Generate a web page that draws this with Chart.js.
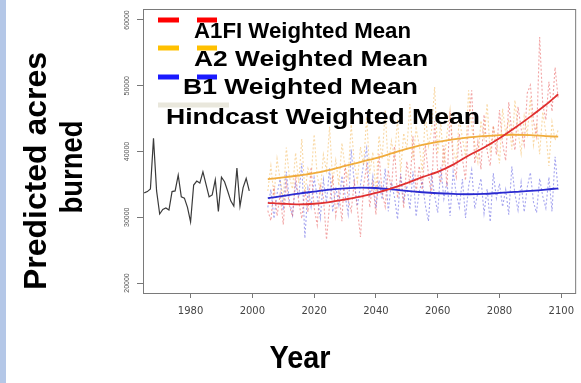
<!DOCTYPE html>
<html>
<head>
  <title>Predicted acres burned</title>
  <script src="https://cdn.jsdelivr.net/npm/chart.js"></script>
  <style>
    body { margin: 0; background: #fff; }
    #wrap { position: relative; width: 581px; height: 383px; }
  </style>
</head>
<body>
<div id="wrap"><canvas id="fireChart"></canvas></div>

<script>
  // tick labels
  const xTicks = [1980, 2000, 2020, 2040, 2060, 2080, 2100];
  const yTicks = [20000, 30000, 40000, 50000, 60000];

  // hindcast 1965-1999
  const hindYears = [1965, 1966, 1967, 1968, 1969, 1970, 1971, 1972, 1973, 1974, 1975, 1976, 1977, 1978, 1979,
    1980, 1981, 1982, 1983, 1984, 1985, 1986, 1987, 1988, 1989, 1990, 1991, 1992, 1993, 1994, 1995, 1996, 1997, 1998, 1999];
  const hindcast = [33700, 33900, 34300, 42000, 34000, 30500, 31200, 31400, 31100, 33900, 34000, 36400, 33100, 32900, 31500,
    29300, 34900, 35500, 35200, 36900, 35000, 33100, 33400, 35700, 30900, 36100, 35400, 34000, 32500, 31700, 37500, 31700, 34500, 35900, 34000];

  // yearly scenario runs, 2005-2099
  const projStart = 2005;
  const a1fiYearly = [31000, 29500, 34800, 30200, 33500, 28900, 35200, 31800, 30100, 36500,
    32400, 29800, 34200, 30800, 37600, 31500, 28800, 35100, 33000, 26600,
    31900, 36400, 30200, 33800, 29400, 38200, 32600, 30900, 35400, 31200,
    27000, 34800, 37900, 31500, 35200, 30400, 39600, 33800, 31600, 37200,
    34100, 40800, 32900, 36100, 31400, 38500, 35000, 42300, 33600, 37800,
    34200, 41000, 36500, 33300, 44600, 37000, 35200, 40900, 34700, 46200,
    38400, 36100, 42700, 38900, 35600, 44800, 49300, 38200, 41500, 37300,
    45600, 40100, 37800, 43900, 39500, 46300, 41200, 38600, 47500, 42800,
    40200, 46800, 43500, 41000, 48900, 50100, 44600, 42300, 57400, 47200,
    44800, 50600, 46100, 52800, 48000];
  const a2Yearly = [34000, 37800, 33200, 38900, 35600, 32800, 40600, 36100, 34300, 39800,
    35200, 41900, 33700, 37400, 35900, 42600, 36300, 33900, 39500, 37100,
    43800, 35500, 38700, 34800, 41300, 37600, 36000, 44100, 38200, 35400,
    40700, 37900, 45300, 36600, 39900, 33800, 42400, 38800, 46200, 37500,
    41600, 39100, 44900, 36900, 42800, 40300, 47200, 38700, 43500, 41100,
    36800, 45700, 40800, 43200, 49800, 39600, 44300, 37900, 42700, 46400,
    40200, 38500, 45100, 42000, 39300, 49300, 43600, 41200, 38400, 44700,
    42100, 47300, 39800, 43900, 41500, 38200, 46500, 42800, 44900, 40300,
    47800, 43100, 39700, 45400, 42600, 48200, 41000, 44200, 39600, 46000,
    42900, 37800, 44500, 41700, 43300];
  const b1Yearly = [31500, 34200, 29800, 33600, 35800, 31100, 36900, 32400, 30300, 35100,
    33000, 38200, 26800, 34400, 31600, 36000, 33100, 29900, 35700, 32200,
    37500, 30800, 34600, 31900, 36300, 33400, 30500, 40300, 35200, 31700,
    34900, 38100, 40500, 33000, 36200, 31400, 35600, 32700, 37400, 30900,
    35300, 33100, 29700, 36600, 32500, 34800, 31200, 37000, 30100, 33900,
    35500, 31800, 29400, 36400, 33300, 30700, 37600, 32800, 35400, 30200,
    36900, 33600, 31500, 35800, 29900, 34700, 37200, 31300, 33800, 35900,
    30600, 34300, 29300, 36700, 32900, 35100, 31600, 34200, 30400, 37700,
    33500, 31100, 35300, 30800, 34600, 36800, 32300, 30700, 35900, 33200,
    31400, 36100, 30900, 39200, 34000];

  // weighted means (smoothed)
  const meanYears = [2005, 2010, 2015, 2020, 2025, 2030, 2035, 2040, 2045, 2050,
    2055, 2060, 2065, 2070, 2075, 2080, 2085, 2090, 2095, 2099];
  const a1fiMean = [32200, 32050, 31950, 32050, 32300, 32700, 33150, 33700, 34400, 35200,
    36100, 36900, 38000, 39400, 40600, 42000, 43600, 45300, 47100, 48700];
  const a2Mean = [35800, 36050, 36350, 36700, 37200, 37800, 38400, 39000, 39700, 40400,
    41000, 41450, 41850, 42150, 42350, 42500, 42550, 42500, 42350, 42250];
  const b1Mean = [32900, 33250, 33600, 33900, 34200, 34400, 34500, 34450, 34250, 34000,
    33800, 33650, 33550, 33500, 33550, 33700, 33850, 34000, 34200, 34400];

  const legendLabels = ["A1FI Weighted Mean", "A2 Weighted Mean", "B1 Weighted Mean", "Hindcast Weighted Mean"];

  function pairs(xs, ys) {
    return ys.map((v, i) => ({ x: xs[i], y: v }));
  }
  function yearly(vals) {
    return vals.map((v, i) => ({ x: projStart + i, y: v }));
  }

  const TEXT_FONT = '"Liberation Sans", Arial, sans-serif';

  // draw bold text squeezed/stretched to a measured width
  function fitText(ctx, text, x, y, size, width, opts = {}) {
    ctx.save();
    ctx.translate(x, y);
    if (opts.rotate) ctx.rotate(opts.rotate);
    ctx.font = "bold " + size + "px " + TEXT_FONT;
    ctx.fillStyle = opts.color || "#000";
    ctx.textBaseline = opts.baseline || "alphabetic";
    ctx.textAlign = "left";
    const w = ctx.measureText(text).width;
    ctx.scale(width / w, 1);
    ctx.fillText(text, opts.center ? -w / 2 : 0, 0);
    ctx.restore();
  }

  const decorations = {
    id: "decorations",
    beforeDraw(chart) {
      const ctx = chart.ctx;
      ctx.save();
      ctx.fillStyle = "#b4c7e7";
      ctx.fillRect(0, 0, 6, chart.height);
      ctx.restore();
    },
    afterDatasetsDraw(chart) {
      const { ctx, chartArea } = chart;
      ctx.save();
      ctx.strokeStyle = "#7a7a7a";
      ctx.lineWidth = 1;
      ctx.strokeRect(chartArea.left + 0.5, chartArea.top + 0.5, chartArea.right - chartArea.left + 4, chartArea.bottom - chartArea.top);
      ctx.restore();
    },
    afterDraw(chart) {
      const ctx = chart.ctx;
      // legend swatches
      const swatch = [
        { color: "#ff0000", y: 20, segs: [[158, 179], [197, 217]] },
        { color: "#ffc000", y: 48, segs: [[158, 179], [197, 217]] },
        { color: "#1a1aff", y: 77, segs: [[158, 179], [197, 217]] },
        { color: "#e9e7dc", y: 105, segs: [[158, 229]] }
      ];
      ctx.save();
      ctx.lineWidth = 5;
      swatch.forEach(s => {
        ctx.strokeStyle = s.color;
        s.segs.forEach(sg => {
          ctx.beginPath();
          ctx.moveTo(sg[0], s.y);
          ctx.lineTo(sg[1], s.y);
          ctx.stroke();
        });
      });
      ctx.restore();

      const rows = [[194, 38, 217], [194, 66, 234], [183, 94, 235], [166, 124, 314]];
      legendLabels.forEach((t, i) => fitText(ctx, t, rows[i][0], rows[i][1], 21.5, rows[i][2]));

      // axis titles
      fitText(ctx, "Predicted acres", 37, 171, 31, 238, { rotate: -Math.PI / 2, center: true, baseline: "middle" });
      fitText(ctx, "burned", 73, 167, 31, 93, { rotate: -Math.PI / 2, center: true, baseline: "middle" });
      fitText(ctx, "Year", 300, 368, 32, 61, { center: true });
    }
  };

  const ctx = document.getElementById("fireChart").getContext("2d");

  new Chart(ctx, {
    type: "line",
    data: {
      datasets: [
        { data: yearly(a1fiYearly), borderColor: "rgba(232,90,90,0.55)", borderWidth: 1.1, borderDash: [2, 2], order: 2 },
        { data: yearly(a2Yearly), borderColor: "rgba(244,184,90,0.55)", borderWidth: 1.1, borderDash: [2, 2], order: 2 },
        { data: yearly(b1Yearly), borderColor: "rgba(90,90,225,0.55)", borderWidth: 1.1, borderDash: [2, 2], order: 2 },
        { data: pairs(meanYears, a2Mean), borderColor: "#f0ac3c", borderWidth: 1.8, tension: 0.4, cubicInterpolationMode: "monotone", order: 1 },
        { data: pairs(meanYears, b1Mean), borderColor: "#2a2ad0", borderWidth: 1.8, tension: 0.4, cubicInterpolationMode: "monotone", order: 1 },
        { data: pairs(meanYears, a1fiMean), borderColor: "#e03030", borderWidth: 1.8, tension: 0.4, cubicInterpolationMode: "monotone", order: 0 },
        { data: pairs(hindYears, hindcast), borderColor: "#3a3a3a", borderWidth: 1.2, tension: 0, order: 0 }
      ]
    },
    options: {
      responsive: true,
      maintainAspectRatio: false,
      animation: false,
      elements: { point: { radius: 0 } },
      layout: { padding: { top: 9, right: 0, left: 0, bottom: 0 } },
      plugins: { legend: { display: false }, tooltip: { enabled: false } },
      scales: {
        x: {
          type: "linear",
          min: 1964.6,
          max: 2103.2,
          afterBuildTicks: scale => { scale.ticks = xTicks.map(v => ({ value: v })); },
          afterFit: scale => { scale.height = 90; },
          border: { display: false },
          grid: { drawOnChartArea: false, drawTicks: true, tickLength: 5, color: "#777" },
          ticks: {
            padding: 7,
            color: "#444",
            font: { family: "DejaVu Sans", size: 10 },
            maxRotation: 0,
            callback: v => String(v)
          }
        },
        y: {
          min: 18480,
          max: 61670,
          afterBuildTicks: scale => { scale.ticks = yTicks.map(v => ({ value: v })); },
          afterFit: scale => { scale.width = 143; },
          border: { display: false },
          grid: { drawOnChartArea: false, drawTicks: true, tickLength: 6, color: "#777" },
          ticks: {
            padding: 0,
            color: "#555",
            minRotation: 90,
            maxRotation: 90,
            crossAlign: "center",
            font: { family: "Liberation Sans", size: 7 },
            callback: v => String(v)
          }
        }
      }
    },
    plugins: [decorations]
  });
</script>
</body>
</html>
